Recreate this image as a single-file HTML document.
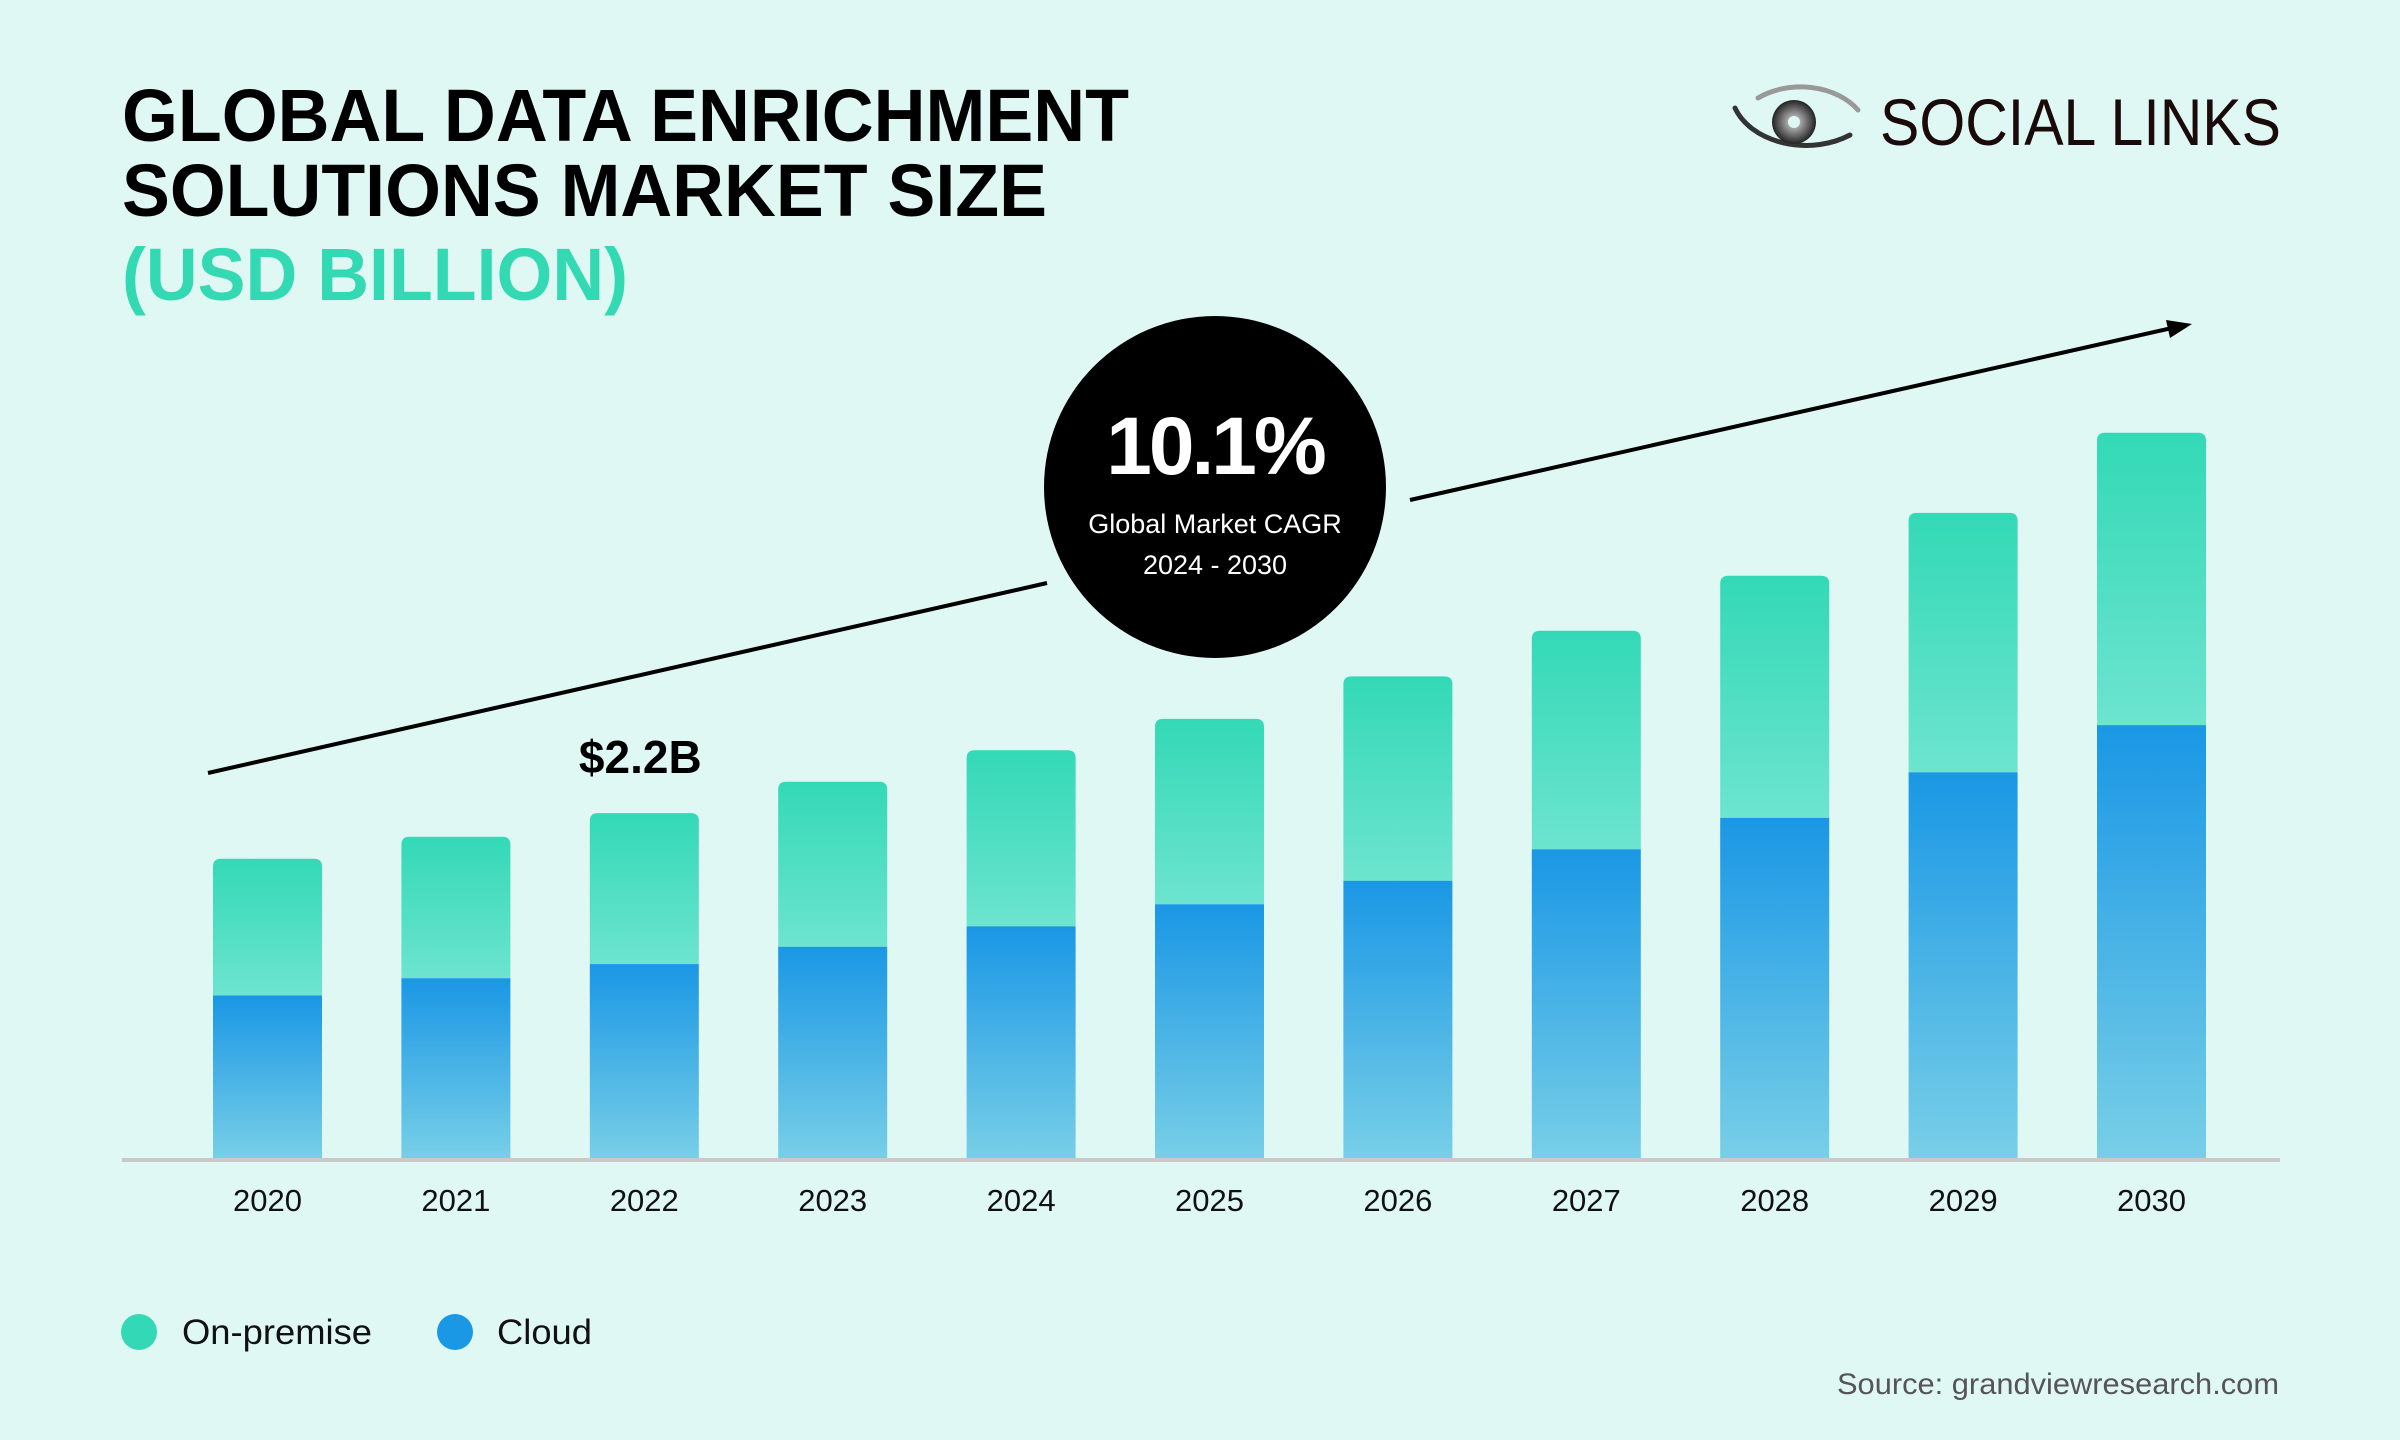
<!DOCTYPE html>
<html><head><meta charset="utf-8"><style>
html,body{margin:0;padding:0;background:#e0f8f4;}
svg{display:block;}
</style></head><body>
<svg width="2400" height="1440" viewBox="0 0 2400 1440" xmlns="http://www.w3.org/2000/svg" id="chart">
<defs>
<linearGradient id="gOn" x1="0" y1="0" x2="0" y2="1"><stop offset="0" stop-color="#33d9b6"/><stop offset="1" stop-color="#6de4cf"/></linearGradient>
<linearGradient id="gCl" x1="0" y1="0" x2="0" y2="1"><stop offset="0" stop-color="#1a97e5"/><stop offset="1" stop-color="#78cfe7"/></linearGradient>
<radialGradient id="gEye" cx="0.5" cy="0.5" r="0.5"><stop offset="0" stop-color="#ddd"/><stop offset="1" stop-color="#222"/></radialGradient>
</defs>
<rect width="2400" height="1440" fill="#e0f8f4"/>
<g font-family="'Liberation Sans', sans-serif" font-weight="900">
<text x="122" y="141" font-size="74" fill="#000" textLength="1007" lengthAdjust="spacingAndGlyphs">GLOBAL DATA ENRICHMENT</text>
<text x="122" y="216" font-size="74" fill="#000" textLength="925" lengthAdjust="spacingAndGlyphs">SOLUTIONS MARKET SIZE</text>
<text x="122" y="300" font-size="74" fill="#33d9b2" textLength="506" lengthAdjust="spacingAndGlyphs">(USD BILLION)</text>
</g>
<g>
<path d="M1735 108 A75 55 0 0 0 1850 135" fill="none" stroke="#333" stroke-width="5" stroke-linecap="round"/>
<path d="M1758 98 A68 50 0 0 1 1858 110" fill="none" stroke="#999" stroke-width="5" stroke-linecap="round"/>
<circle cx="1794" cy="122" r="22" fill="url(#gEye)"/>
<circle cx="1794" cy="122" r="6" fill="#e0f8f4"/>
<text x="1880" y="145" font-family="'Liberation Sans', sans-serif" font-size="66" fill="#1a0a0a" textLength="401" lengthAdjust="spacingAndGlyphs">SOCIAL LINKS</text>
</g>
<g id="bars"></g>
<line x1="122" y1="1160" x2="2280" y2="1160" stroke="#c9c9c9" stroke-width="4"/>
<g id="xlabels" font-family="'Liberation Sans', sans-serif" font-size="31" fill="#111" text-anchor="middle"></g>
<line x1="208" y1="773" x2="1047" y2="583" stroke="#000" stroke-width="4"/>
<line x1="1410" y1="500" x2="2172" y2="328" stroke="#000" stroke-width="4"/>
<polygon points="2192,324 2166,320 2170,338" fill="#000"/>
<g>
<circle cx="1215" cy="487" r="171" fill="#000"/>
<text x="1215" y="474" text-anchor="middle" font-family="'Liberation Sans', sans-serif" font-weight="bold" font-size="82" fill="#fff" letter-spacing="-3">10.1%</text>
<text x="1215" y="533" text-anchor="middle" font-family="'Liberation Sans', sans-serif" font-size="27" fill="#fff">Global Market CAGR</text>
<text x="1215" y="574" text-anchor="middle" font-family="'Liberation Sans', sans-serif" font-size="27" fill="#fff">2024 - 2030</text>
</g>
<text id="anno" x="638" y="773" text-anchor="middle" font-family="'Liberation Sans', sans-serif" font-weight="900" font-size="46" fill="#000">$2.2B</text>
<g font-family="'Liberation Sans', sans-serif" font-size="35" fill="#111">
<circle cx="139" cy="1332" r="18" fill="#33d9b6"/>
<text x="182" y="1344" textLength="190" lengthAdjust="spacingAndGlyphs">On-premise</text>
<circle cx="455" cy="1332" r="18" fill="#1a97e5"/>
<text x="497" y="1344" textLength="95" lengthAdjust="spacingAndGlyphs">Cloud</text>
</g>
<text x="2279" y="1394" text-anchor="end" font-family="'Liberation Sans', sans-serif" font-size="30" fill="#555" textLength="442" lengthAdjust="spacingAndGlyphs">Source: grandviewresearch.com</text>
</svg>
<script>
const years = ['2020','2021','2022','2023','2024','2025','2026','2027','2028','2029','2030'];
const cloud = [1.04,1.15,1.24,1.35,1.48,1.62,1.77,1.97,2.17,2.46,2.76];
const onPremise = [0.87,0.90,0.96,1.05,1.12,1.18,1.30,1.39,1.54,1.65,1.86];

const NS='http://www.w3.org/2000/svg';
const baseY=1159, pxPerB=157.2, x0=213, step=188.4, bw=109;
function yScale(v){return baseY - v*pxPerB;}
function xScale(i){return x0 + i*step;}
const gb=document.getElementById('bars');
const gl=document.getElementById('xlabels');
years.forEach((yr,i)=>{
  const x=xScale(i);
  const yc=yScale(cloud[i]);
  const yt=yScale(cloud[i]+onPremise[i]);
  const on=document.createElementNS(NS,'path');
  const r=8;
  on.setAttribute('d',`M${x} ${yc} V${yt+r} Q${x} ${yt} ${x+r} ${yt} H${x+bw-r} Q${x+bw} ${yt} ${x+bw} ${yt+r} V${yc} Z`);
  on.setAttribute('fill','url(#gOn)');
  
  
  gb.appendChild(on);
  const cl=document.createElementNS(NS,'rect');
  cl.setAttribute('x',x);cl.setAttribute('y',yc);cl.setAttribute('width',bw);cl.setAttribute('height',baseY-yc);
  cl.setAttribute('fill','url(#gCl)');
  
  
  gb.appendChild(cl);
  const t=document.createElementNS(NS,'text');
  t.setAttribute('x',x+bw/2);t.setAttribute('y',1211);
  t.textContent=yr;
  
  
  gl.appendChild(t);
});
const a=document.getElementById('anno');
a.setAttribute('x',xScale(2)+bw/2-4);
</script>
</body></html>
